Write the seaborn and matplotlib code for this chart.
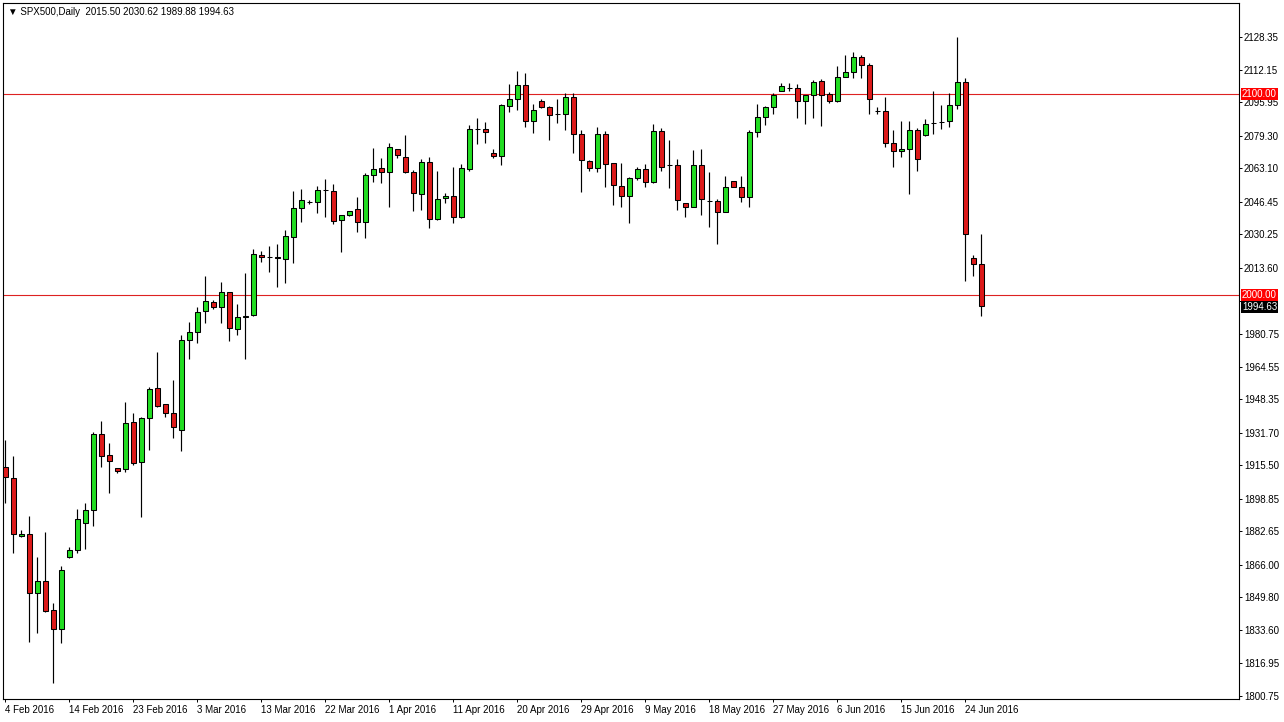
import numpy as np
import pandas as pd
import matplotlib
matplotlib.use("Agg")
import matplotlib.pyplot as plt
import seaborn as sns

# ---- data (SPX500 daily) ----
opens = [
    1914.6, 1909.1, 1880.3, 1881.3, 1852.0, 1857.9, 1843.5, 1834.1, 1869.9, 1873.3,
    1886.8, 1893.2, 1931.0, 1920.6, 1914.1, 1913.6, 1937.0, 1917.1, 1939.0, 1953.9,
    1945.9, 1941.4, 1933.0, 1977.7, 1981.7, 1992.1, 1996.6, 1994.1, 2001.6, 1983.2,
    1989.4, 1990.2, 2020.0, 2019.0, 2019.0, 2018.0, 2028.9, 2043.3, 2046.3, 2046.3,
    2052.3, 2051.8, 2037.4, 2039.9, 2042.9, 2036.4, 2059.8, 2063.2, 2061.2, 2072.7,
    2068.7, 2061.2, 2050.3, 2066.2, 2037.9, 2048.3, 2049.3, 2038.9, 2062.7, 2082.6,
    2082.6, 2070.7, 2069.2, 2094.1, 2097.5, 2104.5, 2086.6, 2096.5, 2093.6, 2090.1,
    2090.1, 2098.5, 2080.1, 2066.7, 2063.2, 2080.1, 2065.7, 2054.3, 2049.3, 2058.3,
    2062.7, 2056.3, 2081.6, 2064.7, 2064.7, 2045.8, 2043.8, 2064.7, 2046.8, 2046.8,
    2041.4, 2056.8, 2053.8, 2048.8, 2081.1, 2088.6, 2093.6, 2101.5, 2103.0, 2103.0,
    2096.5, 2099.5, 2106.5, 2100.0, 2096.5, 2108.5, 2111.0, 2118.4, 2114.4, 2091.6,
    2091.6, 2075.7, 2071.7, 2072.7, 2082.1, 2079.6, 2085.6, 2086.1, 2086.6, 2094.5,
    2106.0, 2018.5, 2015.50,
]
highs = [
    1928.0, 1920.1, 1883.3, 1890.2, 1869.9, 1882.3, 1847.0, 1865.4, 1874.8, 1893.7,
    1896.7, 1932.0, 1937.5, 1926.5, 1914.3, 1946.9, 1941.4, 1939.5, 1954.4, 1971.8,
    1946.1, 1957.8, 1980.2, 1986.7, 1994.1, 2009.5, 1997.6, 2006.6, 2001.8, 1995.6,
    2011.0, 2023.0, 2022.0, 2024.5, 2025.5, 2032.4, 2051.8, 2052.8, 2047.3, 2054.3,
    2057.8, 2055.3, 2040.1, 2042.1, 2048.8, 2060.7, 2073.2, 2068.2, 2075.7, 2072.9,
    2079.6, 2062.2, 2067.7, 2068.7, 2061.7, 2050.8, 2063.7, 2065.2, 2084.6, 2088.1,
    2086.1, 2072.7, 2095.0, 2105.0, 2111.5, 2110.5, 2095.0, 2097.5, 2094.1, 2097.5,
    2100.5, 2100.5, 2082.1, 2067.2, 2083.6, 2081.6, 2065.9, 2065.7, 2058.8, 2063.7,
    2065.2, 2085.1, 2083.1, 2077.2, 2067.7, 2046.0, 2072.2, 2072.7, 2061.2, 2047.8,
    2059.3, 2057.0, 2059.3, 2082.1, 2095.0, 2094.1, 2100.5, 2105.5, 2105.5, 2105.0,
    2099.7, 2107.0, 2107.5, 2101.0, 2113.9, 2119.4, 2120.9, 2119.4, 2115.4, 2093.6,
    2098.5, 2082.1, 2086.6, 2086.6, 2083.1, 2087.6, 2101.5, 2094.5, 2100.5, 2128.4,
    2108.0, 2020.0, 2030.62,
]
lows = [
    1896.7, 1871.8, 1879.8, 1827.6, 1832.1, 1842.5, 1807.2, 1827.1, 1869.4, 1871.8,
    1873.8, 1885.3, 1914.6, 1901.7, 1911.6, 1912.1, 1915.6, 1889.7, 1923.0, 1944.4,
    1939.5, 1929.0, 1922.6, 1968.3, 1976.2, 1986.2, 1993.1, 1986.2, 1977.2, 1980.2,
    1968.3, 1989.7, 2016.5, 2011.5, 2004.1, 2006.1, 2016.0, 2036.4, 2045.3, 2040.9,
    2038.9, 2035.4, 2021.5, 2039.4, 2031.4, 2028.4, 2056.3, 2055.8, 2043.8, 2068.2,
    2060.7, 2041.9, 2042.4, 2033.4, 2037.4, 2045.8, 2035.9, 2038.4, 2061.7, 2075.2,
    2075.7, 2068.2, 2064.7, 2091.1, 2092.1, 2083.6, 2080.6, 2093.1, 2077.2, 2085.6,
    2082.1, 2070.7, 2051.3, 2061.7, 2061.2, 2053.8, 2044.8, 2043.8, 2035.9, 2057.3,
    2053.8, 2055.8, 2061.7, 2053.3, 2042.4, 2038.9, 2043.6, 2039.9, 2033.9, 2025.5,
    2041.2, 2053.6, 2046.3, 2043.8, 2078.6, 2084.6, 2090.1, 2101.3, 2101.5, 2088.1,
    2085.1, 2088.1, 2084.1, 2095.5, 2096.0, 2108.3, 2108.0, 2108.0, 2090.1, 2090.1,
    2073.7, 2063.7, 2068.7, 2050.3, 2061.7, 2079.1, 2080.1, 2082.6, 2083.6, 2092.6,
    2007.1, 2009.5, 1989.88,
]
closes = [
    1909.6, 1881.3, 1881.3, 1852.0, 1857.9, 1843.0, 1834.1, 1863.4, 1873.3, 1888.8,
    1893.2, 1931.0, 1920.1, 1917.6, 1912.6, 1936.5, 1916.6, 1939.0, 1953.4, 1944.9,
    1941.4, 1934.5, 1977.7, 1981.7, 1991.6, 1997.1, 1994.1, 2001.6, 1983.7, 1989.2,
    1989.9, 2020.5, 2019.0, 2019.0, 2018.5, 2029.4, 2043.3, 2047.3, 2046.3, 2052.3,
    2052.3, 2036.9, 2039.9, 2041.9, 2036.4, 2059.8, 2062.7, 2061.2, 2073.7, 2069.7,
    2061.2, 2050.8, 2066.2, 2037.9, 2047.8, 2049.3, 2038.9, 2063.2, 2082.6, 2082.6,
    2081.1, 2069.2, 2094.5, 2097.5, 2104.5, 2086.6, 2092.1, 2093.6, 2089.6, 2090.1,
    2098.5, 2080.1, 2067.2, 2063.2, 2080.1, 2065.2, 2054.8, 2049.3, 2058.3, 2062.7,
    2056.3, 2081.6, 2063.7, 2064.7, 2047.3, 2043.8, 2064.7, 2047.8, 2046.8, 2041.4,
    2053.8, 2053.8, 2048.8, 2081.1, 2088.6, 2093.6, 2099.5, 2104.0, 2103.0, 2096.5,
    2099.5, 2106.0, 2099.5, 2096.5, 2108.5, 2111.0, 2118.4, 2114.4, 2097.5, 2091.6,
    2075.7, 2071.7, 2072.7, 2082.1, 2067.7, 2085.1, 2085.6, 2086.1, 2094.5, 2106.0,
    2030.4, 2015.5, 1994.63,
]
date_labels = ["4 Feb 2016", "14 Feb 2016", "23 Feb 2016", "3 Mar 2016", "13 Mar 2016",
               "22 Mar 2016", "1 Apr 2016", "11 Apr 2016", "20 Apr 2016", "29 Apr 2016",
               "9 May 2016", "18 May 2016", "27 May 2016", "6 Jun 2016", "15 Jun 2016",
               "24 Jun 2016"]
date_bars = [0, 8, 16, 24, 32, 40, 48, 56, 64, 72, 80, 88, 96, 104, 112, 120]
price_ticks = [2128.35, 2112.15, 2095.95, 2079.30, 2063.10, 2046.45, 2030.25, 2013.60,
               1996.95, 1980.75, 1964.55, 1948.35, 1931.70, 1915.50, 1898.85, 1882.65,
               1866.00, 1849.80, 1833.60, 1816.95, 1800.75]
hidden_ticks = [1996.95]
levels = [2100.00, 2000.00]
symbol = "SPX500,Daily"

GREEN = "#22DD22"
RED = "#DD1A1A"
LEVEL_RED = "#DD2222"

sns.set_theme(style="white")
plt.rcParams["font.family"] = ["Liberation Sans", "DejaVu Sans"]

df = pd.DataFrame({"open": opens, "high": highs, "low": lows, "close": closes})
df["x"] = np.arange(len(df))
df["up"] = df["close"] >= df["open"]

W, H = 1284, 722
fig = plt.figure(figsize=(W / 100, H / 100), dpi=100)
fig.patch.set_facecolor("white")
left_px, right_px, top_px, bot_px = 3, 1238.5, 3, 699
ax = fig.add_axes([left_px / W, 1 - bot_px / H, (right_px - left_px) / W, (bot_px - top_px) / H])
ax.set_facecolor("white")

# wicks
ax.vlines(df["x"], df["low"], df["high"], color="black", linewidth=0.85, zorder=2)
# bodies
bottoms = np.minimum(df["open"], df["close"])
heights = np.abs(df["close"] - df["open"])
colors = np.where(df["up"], GREEN, RED)
ax.bar(df["x"], heights, bottom=bottoms, width=0.58, color=colors,
       edgecolor="black", linewidth=0.75, zorder=3)

# horizontal levels
for lv in levels:
    ax.axhline(lv, color=LEVEL_RED, linewidth=0.8, zorder=1)

# limits: 8 px per bar
px_per_bar = 8.0
xmin = -(5.3 - left_px) / px_per_bar
xmax = xmin + (right_px - left_px) / px_per_bar
ax.set_xlim(xmin, xmax)
ppp = 0.4971  # price per pixel
top_price = 2128.35 + (37 - top_px) * ppp
bot_price = 2128.35 - (bot_px - 37) * ppp
ax.set_ylim(bot_price, top_price)

# x ticks
ax.set_xticks(date_bars)
ax.set_xticklabels(date_labels, fontsize=7)
for lbl in ax.get_xticklabels():
    lbl.set_horizontalalignment("left")
ax.tick_params(axis="x", direction="out", length=2.5, width=0.7, pad=1.5,
               color="black", labelcolor="black", bottom=True)

# y ticks on right
ax.yaxis.tick_right()
ax.set_yticks(price_ticks)
ax.set_yticklabels(["" if t in hidden_ticks else f"{t:.2f}" for t in price_ticks], fontsize=7)
for lbl in ax.get_yticklabels():
    lbl.set_horizontalalignment("left")
ax.tick_params(axis="y", direction="out", length=2.5, width=0.7, pad=1.5,
               color="black", labelcolor="black", right=True, left=False)

for sp in ax.spines.values():
    sp.set_color("black")
    sp.set_linewidth(0.8)
ax.grid(False)

# price labels on the right axis
for lv in levels:
    ax.annotate(f"{lv:.2f}", xy=(1, lv), xycoords=("axes fraction", "data"),
                xytext=(2.5, 0), textcoords="offset points", fontsize=7, color="white",
                ha="left", va="center", annotation_clip=False, zorder=10,
                bbox=dict(boxstyle="square,pad=0.12", fc="#FF0000", ec="none"))
ax.annotate(f"{closes[-1]:.2f}", xy=(1, closes[-1]), xycoords=("axes fraction", "data"),
            xytext=(2.5, -0.5), textcoords="offset points", fontsize=7, color="white",
            ha="left", va="center", annotation_clip=False, zorder=10,
            bbox=dict(boxstyle="square,pad=0.12", fc="black", ec="none"))

# header text
header = f"\u25BC {symbol}  {opens[-1]:.2f} {highs[-1]:.2f} {lows[-1]:.2f} {closes[-1]:.2f}"
ax.text(5 / (right_px - left_px), 1 - 9 / (bot_px - top_px), header, transform=ax.transAxes,
        fontsize=7, color="black", ha="left", va="center",
        family=["Liberation Sans", "DejaVu Sans"])

fig.savefig("out.png", dpi=100, facecolor="white")
